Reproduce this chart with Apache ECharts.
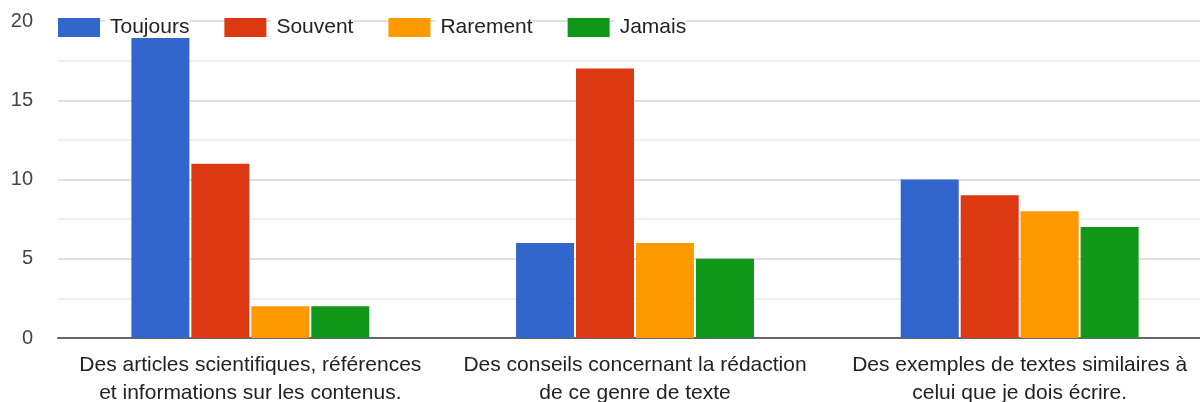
<!DOCTYPE html>
<html>
<head>
<meta charset="utf-8">
<script src="https://cdn.jsdelivr.net/npm/echarts@6/dist/echarts.min.js"></script>
<style>html,body{margin:0;padding:0;background:#fff}#c{width:1200px;height:402px}</style>
</head>
<body>
<div id="c"></div>
<script>
const categories = [
  'Des articles scientifiques, références\net informations sur les contenus.',
  'Des conseils concernant la rédaction\nde ce genre de texte',
  'Des exemples de textes similaires à\ncelui que je dois écrire.'
];
const seriesNames = ['Toujours', 'Souvent', 'Rarement', 'Jamais'];
const toujours = [19, 6, 10];
const souvent = [11, 17, 9];
const rarement = [2, 6, 8];
const jamais = [2, 5, 7];
const colors = ['#3366cc', '#dc3912', '#ff9900', '#109618'];
const values = [toujours, souvent, rarement, jamais];

const chart = echarts.init(document.getElementById('c'), null, {renderer: 'canvas'});
chart.setOption({
  animation: false,
  color: colors,
  textStyle: {fontFamily: 'Liberation Sans, Arial, sans-serif'},
  legend: {
    left: 53, top: 12,
    itemWidth: 42, itemHeight: 19, itemGap: 35,
    icon: 'rect',
    textStyle: {fontSize: 21, color: '#222', padding: [0, 0, 0, 5], backgroundColor: '#fff'},
    data: seriesNames
  },
  grid: {left: 58, top: 21, width: 1154, bottom: 64, outerBoundsMode: 'none', containLabel: false},
  xAxis: {
    type: 'category',
    data: categories,
    axisTick: {show: false},
    axisLine: {lineStyle: {color: '#666', width: 2}},
    axisLabel: {fontSize: 21, color: '#222', lineHeight: 28, margin: 13, interval: 0}
  },
  yAxis: {
    type: 'value', min: 0, max: 20, interval: 5,
    axisLine: {show: false}, axisTick: {show: false},
    axisLabel: {fontSize: 20, color: '#444', margin: 25},
    splitLine: {lineStyle: {color: '#d4d4d4', width: 1.5}},
    minorTick: {show: false, splitNumber: 2},
    minorSplitLine: {show: true, lineStyle: {color: '#ececec', width: 1.5}}
  },
  series: seriesNames.map((n, i) => ({
    name: n, type: 'bar', data: values[i],
    barWidth: 58, barGap: '3.4%',
    itemStyle: {color: colors[i]}
  }))
});
</script>
</body>
</html>
